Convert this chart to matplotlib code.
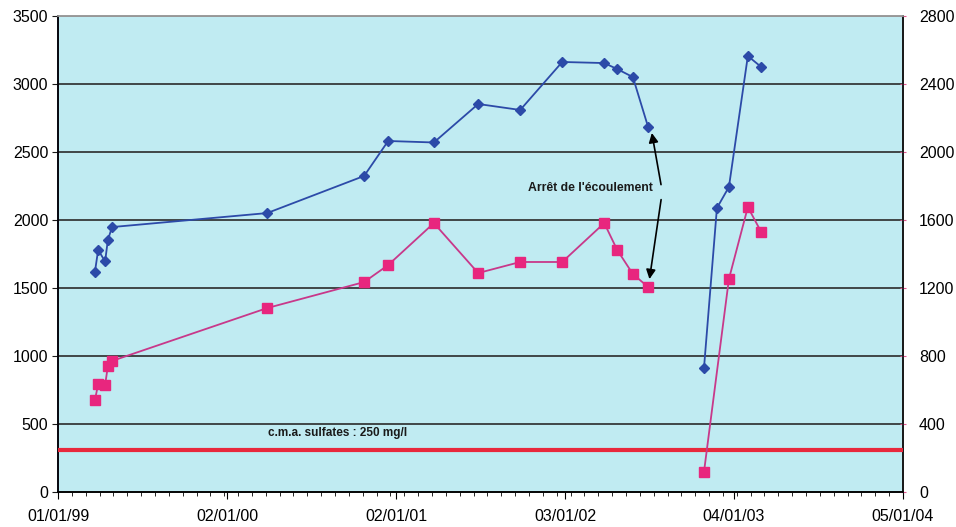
import numpy as np
import matplotlib
matplotlib.use("Agg")
import matplotlib.pyplot as plt

plt.rcParams['font.family'] = ['Liberation Sans', 'DejaVu Sans']

# blue series (left axis)
blue_dates = ["1999-03-22", "1999-03-29", "1999-04-13", "1999-04-19", "1999-04-28",
              "2000-03-29", "2000-10-25", "2000-12-16", "2001-03-25", "2001-06-29",
              "2001-09-28", "2001-12-28", "2002-03-29", "2002-04-26", "2002-05-30",
              "2002-07-02",
              "2002-10-31", "2002-11-28", "2002-12-24", "2003-02-03", "2003-03-04"]
blue_vals = [1620, 1780, 1695, 1853, 1948,
             2051, 2324, 2581, 2570, 2853,
             2809, 3162, 3154, 3110, 3051,
             2684,
             912, 2088, 2243, 3206, 3125]
blue_break = 16

# pink series (right axis)
pink_dates = ["1999-03-22", "1999-03-29", "1999-04-13", "1999-04-19", "1999-04-28",
              "2000-03-29", "2000-10-25", "2000-12-16", "2001-03-25", "2001-06-29",
              "2001-09-28", "2001-12-28", "2002-03-29", "2002-04-26", "2002-05-30",
              "2002-07-02",
              "2002-10-31", "2002-12-24", "2003-02-03", "2003-03-04"]
pink_vals = [541, 635, 629, 741, 771,
             1082, 1235, 1335, 1582, 1288,
             1353, 1353, 1582, 1424, 1282,
             1206,
             118, 1253, 1676, 1529]
pink_break = 16

cma_sulfates = 250
major_dates = ["1999-01-01", "2000-01-02", "2001-01-02", "2002-01-03", "2003-01-04", "2004-01-05"]
major_labels = ["01/01/99", "02/01/00", "02/01/01", "03/01/02", "04/01/03", "05/01/04"]

bd = [np.datetime64(d) for d in blue_dates]
pdt = [np.datetime64(d) for d in pink_dates]

fig = plt.figure(figsize=(9.56, 5.27), dpi=100)
ax = fig.add_axes([58/956, 1-492/527, 845/956, 476/527])
ax2 = ax.twinx()

ax.set_facecolor('#c0ebf2')
ax.set_zorder(ax2.get_zorder() - 1)
ax2.patch.set_visible(False)
ax.patch.set_visible(True)

ax.set_ylim(0, 3500)
ax2.set_ylim(0, 2800)
ax.set_yticks(np.arange(0, 3501, 500))
ax2.set_yticks(np.arange(0, 2801, 400))
for y in np.arange(500, 3501, 500):
    ax.axhline(y, color='#2a2a2a', lw=1.2, zorder=1)

xmin = np.datetime64(major_dates[0])
xmax = np.datetime64(major_dates[-1])
ax.set_xlim(xmin, xmax)
ax.set_xticks([np.datetime64(d) for d in major_dates])
ax.set_xticklabels(major_labels)
minor = np.arange(xmin, xmax, np.timedelta64(30, 'D'))
ax.set_xticks(minor, minor=True)

blue = '#2c4aa8'
pink = '#e8267e'
ax.plot(bd[:blue_break], blue_vals[:blue_break], color=blue, lw=1.3,
        marker='D', ms=5, mfc=blue, mec=blue, zorder=4)
ax.plot(bd[blue_break:], blue_vals[blue_break:], color=blue, lw=1.3,
        marker='D', ms=5, mfc=blue, mec=blue, zorder=4)
ax2.plot(pdt[:pink_break], pink_vals[:pink_break], color='#c8388a', lw=1.3,
         marker='s', ms=7, mfc=pink, mec=pink, zorder=4)
ax2.plot(pdt[pink_break:], pink_vals[pink_break:], color='#c8388a', lw=1.3,
         marker='s', ms=7, mfc=pink, mec=pink, zorder=4)
ax2.axhline(cma_sulfates, color='#e8283c', lw=3, zorder=3)

ax2.text(np.datetime64("2000-08-28"), 345, "c.m.a. sulfates : 250 mg/l",
         fontsize=8.5, fontweight='bold', color='#1a1a1a', ha='center', va='center')

ax.text(np.datetime64("2002-02-28"), 2235, "Arrêt de l'écoulement",
        fontsize=8.8, fontweight='bold', color='#1a1a1a', ha='center', va='center')
ax.annotate("", xy=(np.datetime64("2002-07-09"), 2660), xytext=(np.datetime64("2002-07-31"), 2240),
            arrowprops=dict(arrowstyle='-|>', color='black', lw=1.2, mutation_scale=14))
ax.annotate("", xy=(np.datetime64("2002-07-04"), 1545), xytext=(np.datetime64("2002-07-31"), 2170),
            arrowprops=dict(arrowstyle='-|>', color='black', lw=1.2, mutation_scale=14))

for a in (ax, ax2):
    for s in a.spines.values():
        s.set_linewidth(1.2)
ax.spines['left'].set_color('#1d1d5a')
ax.spines['bottom'].set_color('#1a1a1a')
ax.spines['top'].set_color('#9a9a9a')
ax2.spines['right'].set_color('#1a1a1a')
ax2.spines['top'].set_color('#9a9a9a')

ax.tick_params(axis='y', labelsize=11.5, length=4, color='#1a1a1a', pad=3)
ax.tick_params(axis='x', which='major', labelsize=11.5, length=5, direction='out', pad=7)
ax.tick_params(axis='x', which='minor', length=3, direction='out')
ax2.tick_params(axis='y', labelsize=11.5, length=5, color='#e05a90', direction='inout', pad=9)

fig.savefig("out.png", dpi=100)
